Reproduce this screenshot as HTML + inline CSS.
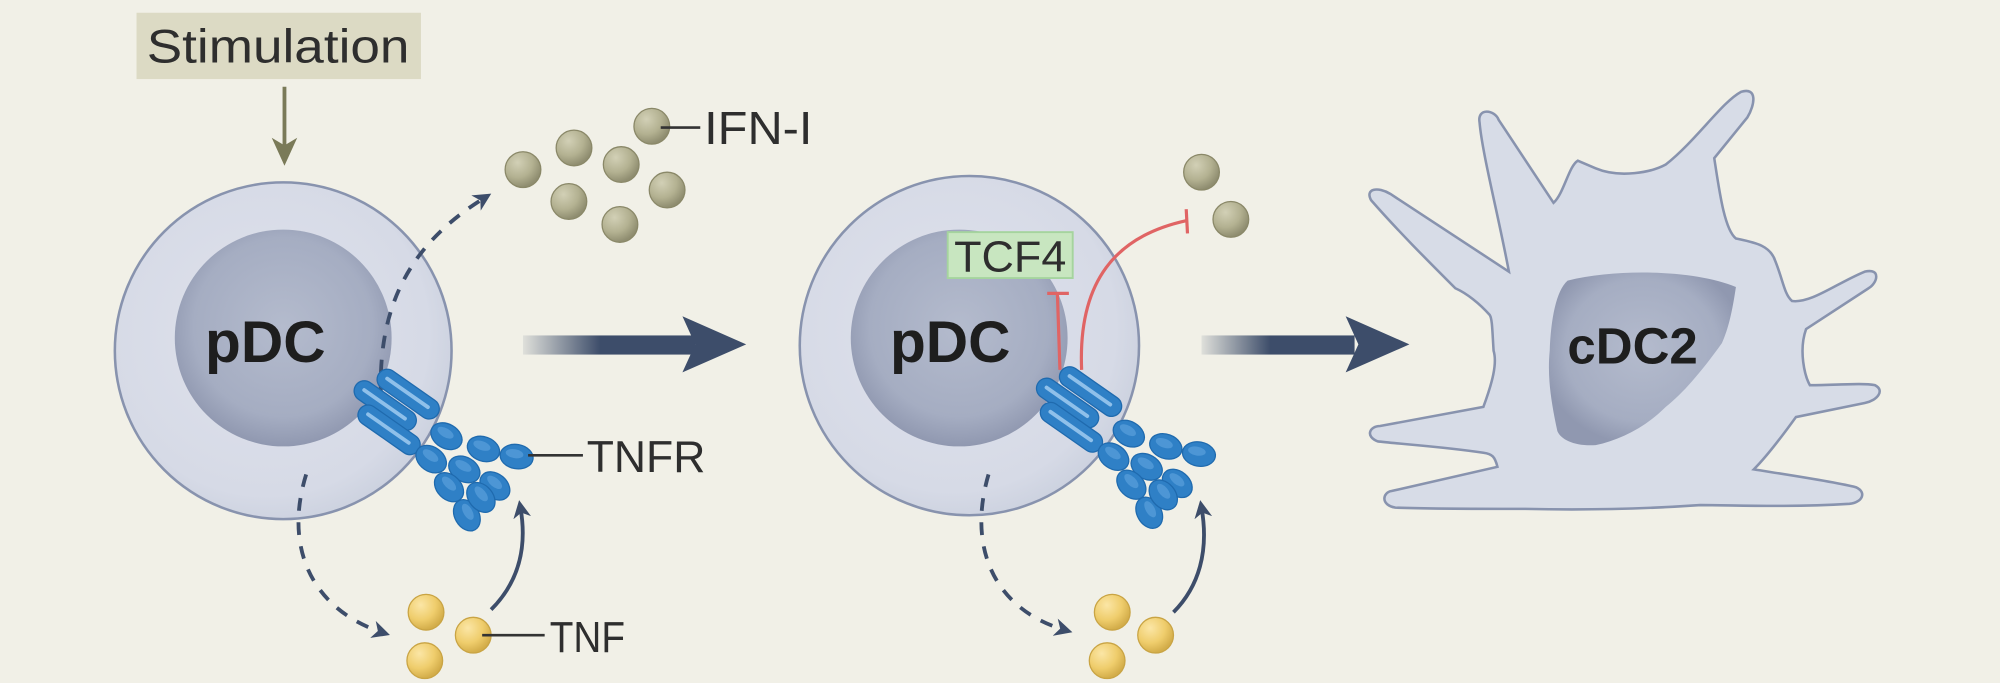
<!DOCTYPE html>
<html><head><meta charset="utf-8"><style>
html,body{margin:0;padding:0;background:#f1f0e7;}
svg{display:block;}
text{font-family:"Liberation Sans",Arial,sans-serif;}
</style></head><body>
<svg width="2000" height="683" viewBox="0 0 1568 535.5" xmlns="http://www.w3.org/2000/svg">
<defs>
<radialGradient id="cell" cx="0.45" cy="0.45" r="0.6">
<stop offset="0" stop-color="#dfe2ec"/><stop offset="0.8" stop-color="#d6dae6"/><stop offset="1" stop-color="#c9cfdd"/>
</radialGradient>
<radialGradient id="nuc" cx="0.5" cy="0.45" r="0.55">
<stop offset="0" stop-color="#b4bbcd"/><stop offset="0.75" stop-color="#a5adc2"/><stop offset="1" stop-color="#9098b0"/>
</radialGradient>
<radialGradient id="ifn" cx="0.35" cy="0.3" r="0.7">
<stop offset="0" stop-color="#d2d0b6"/><stop offset="0.6" stop-color="#b3b191"/><stop offset="1" stop-color="#8f8d70"/>
</radialGradient>
<radialGradient id="tnf" cx="0.35" cy="0.3" r="0.7">
<stop offset="0" stop-color="#fbe6a6"/><stop offset="0.6" stop-color="#efcd6c"/><stop offset="1" stop-color="#d3ad4a"/>
</radialGradient>
<linearGradient id="arr" x1="0" x2="1" y1="0" y2="0">
<stop offset="0" stop-color="#3d4d6a" stop-opacity="0.1"/><stop offset="0.45" stop-color="#3d4d6a"/><stop offset="1" stop-color="#3d4d6a"/>
</linearGradient>
<marker id="ah2" markerWidth="14" markerHeight="14" refX="8" refY="7" orient="auto" markerUnits="userSpaceOnUse">
<path d="M0,0 L14,7 L0,14 L4,7 Z" fill="#3d4d6a"/>
</marker>
<g id="bead"><ellipse rx="13" ry="9.5" fill="#2f80c6" stroke="#1f6aae" stroke-width="1"/><ellipse rx="7" ry="3.5" cx="-2" cy="-2" fill="#5aa0dc" opacity="0.7"/></g>
<g id="tnfr">
<g transform="translate(302,318) rotate(35)"><rect x="-28" y="-8" width="56" height="16" rx="8" fill="#2f80c6" stroke="#1f6aae"/><rect x="-22" y="-2" width="42" height="3" rx="1.5" fill="#8fc0ea"/></g>
<g transform="translate(320,309) rotate(35)"><rect x="-28" y="-8" width="56" height="16" rx="8" fill="#2f80c6" stroke="#1f6aae"/><rect x="-22" y="-2" width="42" height="3" rx="1.5" fill="#8fc0ea"/></g>
<g transform="translate(305,337) rotate(35)"><rect x="-28" y="-8" width="56" height="16" rx="8" fill="#2f80c6" stroke="#1f6aae"/><rect x="-22" y="-2" width="42" height="3" rx="1.5" fill="#8fc0ea"/></g>
<use href="#bead" transform="translate(350,342) rotate(30)"/>
<use href="#bead" transform="translate(379,352) rotate(20)"/>
<use href="#bead" transform="translate(405,358) rotate(10)"/>
<use href="#bead" transform="translate(338,360) rotate(35)"/>
<use href="#bead" transform="translate(364,368) rotate(30)"/>
<use href="#bead" transform="translate(388,381) rotate(40)"/>
<use href="#bead" transform="translate(352,382) rotate(45)"/>
<use href="#bead" transform="translate(366,404) rotate(60)"/>
<use href="#bead" transform="translate(377,390) rotate(50)"/>
</g>
<g id="ball1"><circle r="14" fill="url(#ifn)" stroke="#8a8868" stroke-width="1"/></g>
<g id="ball2"><circle r="14" fill="url(#tnf)" stroke="#c9a444" stroke-width="1"/></g>
</defs>
<rect width="1568" height="535.5" fill="#f1f0e7"/>

<!-- Stimulation -->
<rect x="107" y="10" width="223" height="52" fill="#dcdac4"/>
<text x="218" y="49" font-size="37" text-anchor="middle" fill="#2e2e2e" textLength="206" lengthAdjust="spacingAndGlyphs">Stimulation</text>
<line x1="223" y1="68" x2="223" y2="118" stroke="#7a7a58" stroke-width="3"/>
<path d="M213,108 L223,130 L233,108 L223,114 Z" fill="#7a7a58"/>

<!-- Cell 1 -->
<circle cx="222" cy="275" r="132" fill="url(#cell)" stroke="#8893ae" stroke-width="2"/>
<circle cx="222" cy="265" r="85" fill="url(#nuc)"/>
<text x="208" y="284" font-size="46" font-weight="bold" text-anchor="middle" fill="#1e1e1e">pDC</text>
<path d="M300,330 C292,250 315,195 380,155" fill="none" stroke="#3d4d6a" stroke-width="3" stroke-dasharray="10 9" marker-end="url(#ah2)"/>
<path d="M240,372 C222,430 245,478 300,496" fill="none" stroke="#3d4d6a" stroke-width="3" stroke-dasharray="10 9" marker-end="url(#ah2)"/>
<use href="#tnfr"/>
<path d="M385,478 C405,458 414,432 408,398" fill="none" stroke="#3d4d6a" stroke-width="3" marker-end="url(#ah2)"/>
<use href="#ball1" x="410" y="133"/><use href="#ball1" x="450" y="116"/><use href="#ball1" x="487" y="129"/>
<use href="#ball1" x="446" y="158"/><use href="#ball1" x="486" y="176"/><use href="#ball1" x="523" y="149"/><use href="#ball1" x="511" y="99"/>
<line x1="518" y1="100" x2="549" y2="100" stroke="#333" stroke-width="2"/>
<text x="552" y="113" font-size="36" fill="#2e2e2e" textLength="85" lengthAdjust="spacingAndGlyphs">IFN-I</text>
<line x1="414" y1="357" x2="457" y2="357" stroke="#333" stroke-width="2"/>
<text x="460" y="370" font-size="35" fill="#2e2e2e" textLength="93" lengthAdjust="spacingAndGlyphs">TNFR</text>
<use href="#ball2" x="334" y="480"/><use href="#ball2" x="333" y="518"/><use href="#ball2" x="371" y="498"/>
<line x1="378" y1="498" x2="427" y2="498" stroke="#333" stroke-width="2"/>
<text x="431" y="511" font-size="34" fill="#2e2e2e" textLength="59" lengthAdjust="spacingAndGlyphs">TNF</text>

<!-- Big arrow 1 -->
<rect x="410" y="263" width="135" height="15" fill="url(#arr)"/>
<path d="M535,248 L585,270 L535,292 L545,270 Z" fill="#3d4d6a"/>

<!-- Cell 2 -->
<circle cx="760" cy="271" r="133" fill="url(#cell)" stroke="#8893ae" stroke-width="2"/>
<circle cx="752" cy="265" r="85" fill="url(#nuc)"/>
<text x="745" y="284" font-size="46" font-weight="bold" text-anchor="middle" fill="#1e1e1e">pDC</text>
<rect x="743" y="182" width="98" height="36" fill="#c8e6c0" stroke="#a5d49e" stroke-width="1.5"/>
<text x="792" y="213" font-size="34" text-anchor="middle" fill="#2e2e2e" textLength="88" lengthAdjust="spacingAndGlyphs">TCF4</text>
<line x1="831" y1="290" x2="829" y2="230" stroke="#e06464" stroke-width="2.5"/>
<line x1="821" y1="230" x2="838" y2="230" stroke="#e06464" stroke-width="2.5"/>
<path d="M848,290 C845,220 875,185 930,173" fill="none" stroke="#e06464" stroke-width="2.5"/>
<line x1="930" y1="164" x2="931" y2="183" stroke="#e06464" stroke-width="2.5"/>
<use href="#ball1" x="942" y="135"/><use href="#ball1" x="965" y="172"/>
<path d="M775,372 C758,430 780,478 835,494" fill="none" stroke="#3d4d6a" stroke-width="3" stroke-dasharray="10 9" marker-end="url(#ah2)"/>
<g transform="translate(535,-2)"><use href="#tnfr"/></g>
<path d="M920,480 C940,460 948,432 942,398" fill="none" stroke="#3d4d6a" stroke-width="3" marker-end="url(#ah2)"/>
<use href="#ball2" x="872" y="480"/><use href="#ball2" x="868" y="518"/><use href="#ball2" x="906" y="498"/>

<!-- Big arrow 2 -->
<rect x="942" y="263" width="120" height="15" fill="url(#arr)"/>
<path d="M1055,248 L1105,270 L1055,292 L1065,270 Z" fill="#3d4d6a"/>

<!-- cDC2 -->
<path d="M1075,157 C1070,148 1080,146 1090,152 L1183,213 C1175,170 1162,120 1160,96 C1158,84 1172,86 1175,94 L1218,159 C1226,152 1230,130 1237,126 L1251,132 C1270,140 1295,135 1306,129 C1330,110 1350,80 1365,72 C1378,68 1376,82 1370,92 L1344,124 C1348,150 1352,180 1361,187 C1375,190 1388,192 1392,205 C1398,220 1399,231 1405,236 C1420,238 1440,222 1462,213 C1475,210 1472,222 1465,226 L1416,258 C1410,275 1415,295 1419,302 C1440,302 1460,300 1470,302 C1478,306 1472,314 1462,316 L1408,327 C1395,345 1385,358 1375,368 C1400,372 1440,378 1455,382 C1464,386 1460,394 1450,395 C1400,398 1360,396 1333,396 C1290,399 1240,400 1196,399 C1160,399 1120,399 1094,398 C1082,396 1084,386 1091,385 L1174,366 C1172,358 1170,356 1163,355 C1130,350 1095,348 1080,346 C1070,342 1074,334 1082,334 L1163,319 C1170,300 1174,285 1171,275 C1170,260 1170,250 1168,247 C1160,238 1150,230 1141,226 C1120,205 1095,180 1075,157 Z" fill="#d7dce7" stroke="#8893ae" stroke-width="2"/>
<path d="M1229,220 C1270,210 1330,212 1361,225 C1358,245 1355,258 1350,269 C1335,290 1320,308 1306,319 C1290,335 1270,345 1251,349 C1235,350 1224,345 1221,338 C1216,315 1213,295 1215,275 C1216,250 1220,228 1229,220 Z" fill="url(#nuc)"/>
<text x="1280" y="285" font-size="40" font-weight="bold" text-anchor="middle" fill="#1e1e1e">cDC2</text>
</svg>
</body></html>
